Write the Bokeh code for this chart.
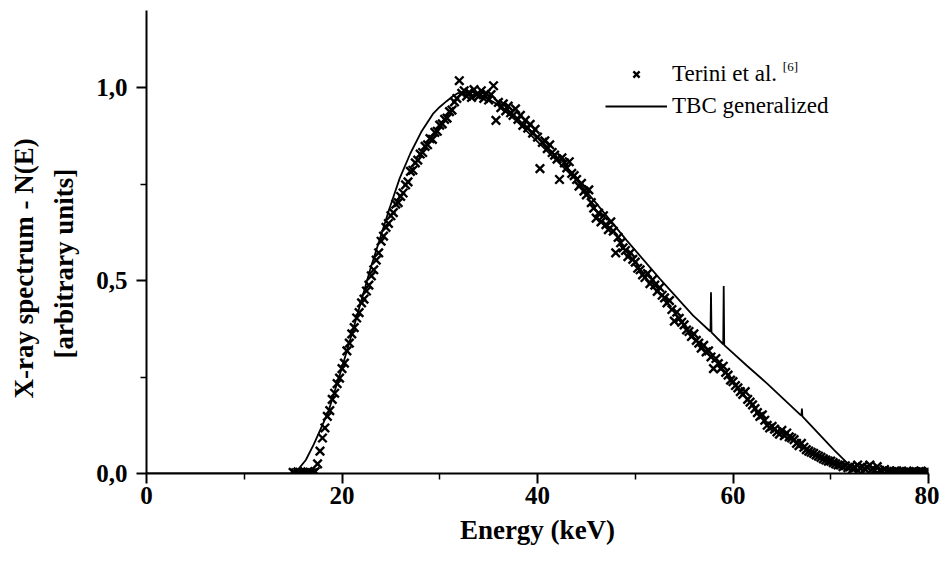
from bokeh.plotting import figure
from bokeh.models import FixedTicker, Legend, LegendItem, Label, Range1d, Title
from bokeh.embed import file_html
from bokeh.resources import INLINE

# ---- TBC generalized model (line) ----
tbc_energy = [0.0, 14.7, 15.5, 16.3, 17.1, 18.6, 20.0, 21.1, 22.9, 24.9, 25.9, 27.0,
              28.1, 29.3, 30.0, 30.7, 31.3, 31.8, 32.5, 33.5, 34.5, 36.0, 38.0,
              40.0, 42.0, 44.0, 45.7, 49.1, 52.5, 55.9, 57.6, 57.7, 57.75, 57.8,
              59.0, 59.05, 59.1, 59.3, 61.4, 63.5, 66.9, 67.0, 67.05, 67.1, 70.3,
              71.7, 72.5, 73.2, 80.0]
tbc_counts = [0.0, 0.0, 0.01, 0.035, 0.075, 0.16, 0.275, 0.37, 0.53, 0.69, 0.765, 0.83,
              0.885, 0.932, 0.95, 0.965, 0.977, 0.985, 0.99, 0.988, 0.978, 0.955, 0.91,
              0.86, 0.81, 0.76, 0.71, 0.605, 0.505, 0.41, 0.37, 0.368, 0.47, 0.366,
              0.335, 0.486, 0.333, 0.328, 0.28, 0.233, 0.152, 0.15, 0.168, 0.148, 0.062,
              0.027, 0.01, 0.0, 0.0]

# ---- Terini et al. measured spectrum (markers), channels of 0.25 keV from 15 keV ----
terini_start_kev = 15.0
terini_step_kev = 0.25
terini_counts = [
    0.003, 0.002, 0.004, 0.002,   # 15
    0.003, 0.002, 0.004, 0.003,   # 16
    0.002, 0.005, 0.025, 0.058,   # 17
    0.092, 0.118, 0.148, 0.163,   # 18
    0.192, 0.208, 0.233, 0.247,   # 19
    0.272, 0.286, 0.318, 0.338,   # 20
    0.362, 0.378, 0.403, 0.417,   # 21
    0.442, 0.452, 0.473, 0.488,   # 22
    0.512, 0.528, 0.553, 0.572,   # 23
    0.602, 0.615, 0.638, 0.648,   # 24
    0.668, 0.676, 0.698, 0.702,   # 25
    0.718, 0.727, 0.748, 0.756,   # 26
    0.783, 0.786, 0.805, 0.812,   # 27
    0.828, 0.832, 0.848, 0.852,   # 28
    0.868, 0.866, 0.884, 0.887,   # 29
    0.903, 0.906, 0.918, 0.921,   # 30
    0.938, 0.942, 0.963, 0.972,   # 31
    1.018, 0.985, 0.992, 0.978,   # 32
    0.988, 0.975, 0.995, 0.982,   # 33
    0.978, 0.992, 0.972, 0.985,   # 34
    0.968, 0.982, 1.005, 0.915,   # 35
    0.962, 0.948, 0.958, 0.940,   # 36
    0.952, 0.935, 0.928, 0.945,   # 37
    0.918, 0.928, 0.902, 0.915,   # 38
    0.895, 0.905, 0.882, 0.892,   # 39
    0.872, 0.790, 0.858, 0.862,   # 40
    0.842, 0.852, 0.832, 0.825,   # 41
    0.815, 0.762, 0.818, 0.805,   # 42
    0.792, 0.808, 0.778, 0.772,   # 43
    0.762, 0.745, 0.752, 0.732,   # 44
    0.722, 0.735, 0.702, 0.688,   # 45
    0.662, 0.675, 0.652, 0.668,   # 46
    0.645, 0.632, 0.652, 0.628,   # 47
    0.572, 0.612, 0.598, 0.585,   # 48
    0.578, 0.562, 0.572, 0.555,   # 49
    0.548, 0.532, 0.528, 0.515,   # 50
    0.508, 0.518, 0.492, 0.502,   # 51
    0.488, 0.472, 0.482, 0.462,   # 52
    0.455, 0.442, 0.448, 0.425,   # 53
    0.395, 0.418, 0.402, 0.392,   # 54
    0.385, 0.372, 0.368, 0.355,   # 55
    0.362, 0.345, 0.338, 0.325,   # 56
    0.332, 0.315, 0.318, 0.302,   # 57
    0.272, 0.298, 0.285, 0.272,   # 58
    0.278, 0.262, 0.255, 0.242,   # 59
    0.238, 0.228, 0.222, 0.212,   # 60
    0.205, 0.212, 0.192, 0.185,   # 61
    0.178, 0.168, 0.158, 0.148,   # 62
    0.152, 0.138, 0.125, 0.118,   # 63
    0.122, 0.115, 0.108, 0.102,   # 64
    0.112, 0.098, 0.105, 0.095,   # 65
    0.092, 0.088, 0.078, 0.072,   # 66
    0.078, 0.068, 0.062, 0.058,   # 67
    0.055, 0.052, 0.048, 0.045,   # 68
    0.042, 0.038, 0.035, 0.032,   # 69
    0.032, 0.028, 0.025, 0.022,   # 70
    0.022, 0.018, 0.020, 0.015,   # 71
    0.018, 0.012, 0.015, 0.022,   # 72
    0.014, 0.018, 0.012, 0.016,   # 73
    0.022, 0.012, 0.008, 0.018,   # 74
    0.008, 0.006, 0.010, 0.005,   # 75
    0.006, 0.004, 0.005, 0.007,   # 76
    0.004, 0.006, 0.003, 0.005,   # 77
    0.005, 0.003, 0.006, 0.004,   # 78
    0.004, 0.006, 0.003, 0.005,   # 79
    0.004,                        # 80
]
terini_energy = [round(terini_start_kev + terini_step_kev * i, 2) for i in range(len(terini_counts))]

x_major = [0, 20, 40, 60, 80]
x_minor = [10, 30, 50, 70]
y_major = [0.0, 0.5, 1.0]
y_minor = [0.25, 0.75]
y_tick_text = {0.0: "0,0", 0.5: "0,5", 1.0: "1,0"}

x_title = "Energy (keV)"
y_title_1 = "X-ray spectrum - N(E)"
y_title_2 = "[arbitrary units]"
legend_labels = ["Terini et al.", "TBC generalized"]
legend_ref = "[6]"

SERIF = "Liberation Serif"

p = figure(width=939, height=562, output_backend="svg", toolbar_location=None,
           x_range=Range1d(0, 80), y_range=Range1d(0, 1.2),
           min_border_left=146, min_border_right=11, min_border_top=10, min_border_bottom=89)
p.outline_line_color = None
p.grid.visible = False
p.background_fill_color = "white"

for ax in (p.xaxis[0], p.yaxis[0]):
    ax.axis_line_width = 2
    ax.axis_line_color = "black"
    ax.major_tick_line_width = 2
    ax.minor_tick_line_width = 1.5
    ax.major_tick_out = 10
    ax.major_tick_in = 0
    ax.minor_tick_out = 6
    ax.minor_tick_in = 0
    ax.major_label_text_font = SERIF
    ax.major_label_text_font_style = "bold"
    ax.major_label_text_font_size = "25px"
    ax.major_label_text_color = "black"

p.xaxis[0].ticker = FixedTicker(ticks=x_major, minor_ticks=x_minor)
p.yaxis[0].ticker = FixedTicker(ticks=y_major, minor_ticks=y_minor)
p.yaxis[0].major_label_overrides = y_tick_text
p.xaxis[0].major_label_standoff = 3
p.yaxis[0].major_label_standoff = 9

p.xaxis[0].axis_label = x_title
p.xaxis[0].axis_label_text_font = SERIF
p.xaxis[0].axis_label_text_font_style = "bold"
p.xaxis[0].axis_label_text_font_size = "27px"
p.xaxis[0].axis_label_text_color = "black"
p.xaxis[0].axis_label_standoff = 8

r_sc = p.scatter(terini_energy, terini_counts, marker="x", size=12,
                 line_color="black", line_width=2.4)
r_ln = p.line(tbc_energy, tbc_counts, line_color="black", line_width=1.8)

legend = Legend(items=[LegendItem(label=legend_labels[0], renderers=[r_sc]),
                       LegendItem(label=legend_labels[1], renderers=[r_ln])],
                location=(459, 354), orientation="vertical",
                glyph_width=62, glyph_height=22, label_height=22,
                label_standoff=5, spacing=6, padding=0, margin=0,
                border_line_color=None, background_fill_alpha=0,
                label_text_font=SERIF, label_text_font_size="23px",
                label_text_color="black")
p.add_layout(legend)

p.add_layout(Label(x=65.1, y=1.055, text=legend_ref, text_font=SERIF,
                   text_font_size="13px", text_align="left", text_baseline="middle",
                   text_color="black"))

t2 = Title(text=y_title_2, align="left", offset=115, standoff=30,
           text_font=SERIF, text_font_style="bold", text_font_size="27px",
           text_color="black")
t1 = Title(text=y_title_1, align="left", offset=75, standoff=-14,
           text_font=SERIF, text_font_style="bold", text_font_size="27px",
           text_color="black")
p.add_layout(t2, "left")
p.add_layout(t1, "left")

open("out.html", "w").write(file_html(p, INLINE))
